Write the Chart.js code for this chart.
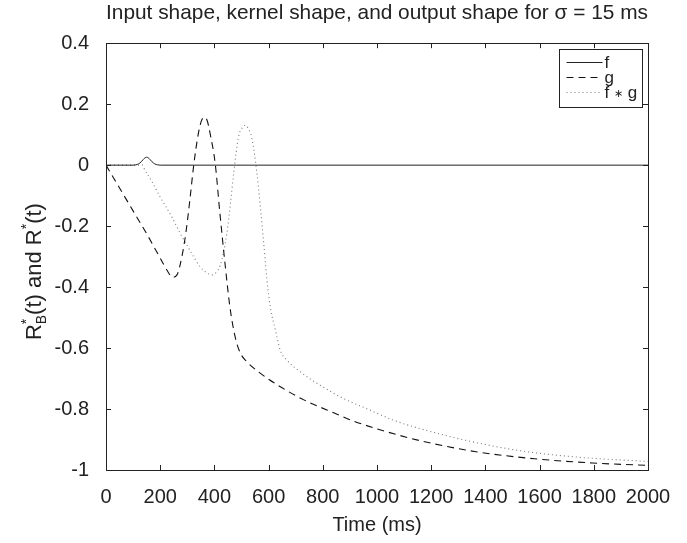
<!DOCTYPE html>
<html>
<head>
<meta charset="utf-8">
<script src="https://cdn.jsdelivr.net/npm/chart.js@4"></script>
<style>
  html, body { margin: 0; padding: 0; background: #fff; }
</style>
</head>
<body>
<canvas id="grafico" width="687" height="543"></canvas>
<script>
// f: input pulse (gaussian, sigma = 15 ms)
var tempoF = [0, 100, 110, 120, 130, 138, 144, 150, 156, 162, 170, 180, 190, 200, 2000];
var valoresF = [0, 0, 0.001, 0.004, 0.011, 0.019, 0.024, 0.026, 0.024, 0.019, 0.011, 0.004, 0.001, 0, 0];

// g: kernel
var tempoG = [0, 50, 100, 150, 200, 230, 245, 262, 280, 295, 310, 323, 340, 352, 362, 372, 385, 403, 420, 440,
  458, 477, 495, 520, 570, 640, 730, 815, 915, 1000, 1165, 1365, 1580, 1795, 2000];
var valoresG = [0, -0.075, -0.15, -0.225, -0.305, -0.352, -0.368, -0.36, -0.3, -0.22, -0.11, -0.005, 0.1, 0.145, 0.157, 0.15, 0.1, 0.005, -0.155, -0.33,
  -0.47, -0.565, -0.615, -0.645, -0.683, -0.725, -0.77, -0.803, -0.84, -0.865, -0.905, -0.94, -0.963, -0.977, -0.985];

// f*g: output
var tempoFG = [0, 135, 140, 170, 200, 240, 274, 310, 347, 375, 392, 408, 421, 435, 446, 460, 471, 489, 505, 514, 525, 538,
  557, 581, 594, 606, 625, 643, 668, 720, 790, 880, 965, 1065, 1150, 1315, 1515, 1730, 2000];
var valoresFG = [0, 0, -0.01, -0.055, -0.105, -0.165, -0.224, -0.28, -0.333, -0.355, -0.36, -0.35, -0.33, -0.28, -0.224, -0.12, -0.027, 0.093, 0.125, 0.131, 0.12, 0.09,
  -0.027, -0.246, -0.377, -0.464, -0.541, -0.607, -0.64, -0.68, -0.722, -0.767, -0.8, -0.838, -0.862, -0.9, -0.935, -0.957, -0.972];

var rotulos = ['f', 'g', 'f \u2217 g'];
var titulo = 'Input shape, kernel shape, and output shape for \u03c3 = 15 ms';
var tituloX = 'Time (ms)';

var fonte = "'Liberation Sans', Arial, sans-serif";

function pontos(ts, vs) {
  return ts.map(function (t, i) { return { x: t, y: vs[i] }; });
}

// ticks para dentro nos quatro lados + moldura + legenda + titulo do eixo y
var extras = {
  id: 'extras',
  afterDraw: function (chart) {
    var ctx = chart.ctx;
    var a = chart.chartArea;
    var sx = chart.scales.x, sy = chart.scales.y;
    var L = 5;
    ctx.save();
    ctx.strokeStyle = '#222';
    ctx.lineWidth = 1;
    ctx.strokeRect(Math.round(a.left) + 0.5, Math.round(a.top) + 0.5, Math.round(a.right - a.left), Math.round(a.bottom - a.top));
    ctx.beginPath();
    sx.ticks.forEach(function (t) {
      var px = Math.round(sx.getPixelForValue(t.value)) + 0.5;
      ctx.moveTo(px, a.bottom); ctx.lineTo(px, a.bottom - L);
      ctx.moveTo(px, a.top); ctx.lineTo(px, a.top + L);
    });
    sy.ticks.forEach(function (t) {
      var py = Math.round(sy.getPixelForValue(t.value)) + 0.5;
      ctx.moveTo(a.left, py); ctx.lineTo(a.left + L, py);
      ctx.moveTo(a.right, py); ctx.lineTo(a.right - L, py);
    });
    ctx.stroke();

    // legenda
    var bx = Math.round(a.right) - 89 + 0.5, by = Math.round(a.top) + 6 + 0.5;
    ctx.fillStyle = '#fff';
    ctx.fillRect(bx, by, 83, 58);
    ctx.strokeStyle = '#222';
    ctx.strokeRect(bx, by, 83, 58);
    ctx.textBaseline = 'middle';
    ctx.textAlign = 'left';
    chart.data.datasets.forEach(function (ds, i) {
      var yy = Math.round(by + 12 + i * 15) + 0.5;
      ctx.beginPath();
      ctx.strokeStyle = ds.borderColor;
      ctx.setLineDash(ds.borderDash || []);
      ctx.moveTo(bx + 7, yy); ctx.lineTo(bx + 43, yy);
      ctx.stroke();
      ctx.setLineDash([]);
      ctx.fillStyle = '#222';
      // o asterisco vai menor, como no original
      var xx = bx + 45;
      ds.label.split('').forEach(function (c) {
        ctx.font = (c === '\u2217' ? '11px ' : '17px ') + fonte;
        ctx.fillText(c, xx, yy + 1);
        xx += ctx.measureText(c).width;
      });
    });

    // titulo eixo y: R*_B(t) and R*(t)
    var partes = [
      { t: 'R', s: 22, dy: 0 },
      { t: '*', s: 14, dy: -10, sub: 'B' },
      { t: '(t) and R', s: 22, dy: 0 },
      { t: '*', s: 14, dy: -10 },
      { t: '(t)', s: 22, dy: 0 }
    ];
    var total = 0;
    partes.forEach(function (p) {
      ctx.font = p.s + 'px ' + fonte;
      p.w = ctx.measureText(p.t).width;
      if (p.sub) p.w = Math.max(p.w, ctx.measureText(p.sub).width);
      total += p.w;
    });
    ctx.translate(41, (a.top + a.bottom) / 2 + 15);
    ctx.rotate(-Math.PI / 2);
    ctx.textBaseline = 'alphabetic';
    ctx.fillStyle = '#222';
    var x = -total / 2;
    partes.forEach(function (p) {
      ctx.font = p.s + 'px ' + fonte;
      ctx.fillText(p.t, x, p.dy);
      if (p.sub) ctx.fillText(p.sub, x, 5);
      x += p.w;
    });
    ctx.restore();
  }
};

var config = {
  type: 'line',
  data: {
    datasets: [
      { label: rotulos[0], data: pontos(tempoF, valoresF), borderColor: '#222', borderWidth: 1 },
      { label: rotulos[1], data: pontos(tempoG, valoresG), borderColor: '#111', borderWidth: 1.1, borderDash: [7, 5] },
      { label: rotulos[2], data: pontos(tempoFG, valoresFG), borderColor: '#777', borderWidth: 1.1, borderDash: [1, 3] }
    ]
  },
  options: {
    responsive: false,
    animation: false,
    devicePixelRatio: 1,
    elements: { point: { radius: 0 }, line: { cubicInterpolationMode: 'monotone', fill: false } },
    layout: { padding: { left: 0, right: 39, top: 0, bottom: 0 } },
    plugins: {
      legend: { display: false },
      tooltip: { enabled: false },
      title: {
        display: true, text: titulo, fullSize: false, color: '#222',
        font: { family: fonte, size: 21, weight: 'normal' },
        padding: { top: 1, bottom: 17 }
      }
    },
    scales: {
      x: {
        type: 'linear', min: 0, max: 2000,
        grid: { display: false, drawTicks: false },
        border: { display: false },
        ticks: {
          stepSize: 200, color: '#222', padding: 15, maxRotation: 0, font: { family: fonte, size: 20 },
          callback: function (v) { return String(v); }
        },
        title: { display: true, text: tituloX, color: '#222', font: { family: fonte, size: 20 }, padding: { top: 0, bottom: 6 } },
        afterFit: function (s) { s.height = 73; }
      },
      y: {
        min: -1, max: 0.4,
        grid: { display: false, drawTicks: false },
        border: { display: false },
        ticks: {
          stepSize: 0.2, color: '#222', padding: 17, font: { family: fonte, size: 20 },
          callback: function (v) { return String(Math.round(v * 10) / 10); }
        },
        afterFit: function (s) { s.width = 106; }
      }
    }
  },
  plugins: [extras]
};

var grafico = new Chart(document.getElementById('grafico'), config);
console.log('area do grafico', grafico.chartArea);
</script>
</body>
</html>
